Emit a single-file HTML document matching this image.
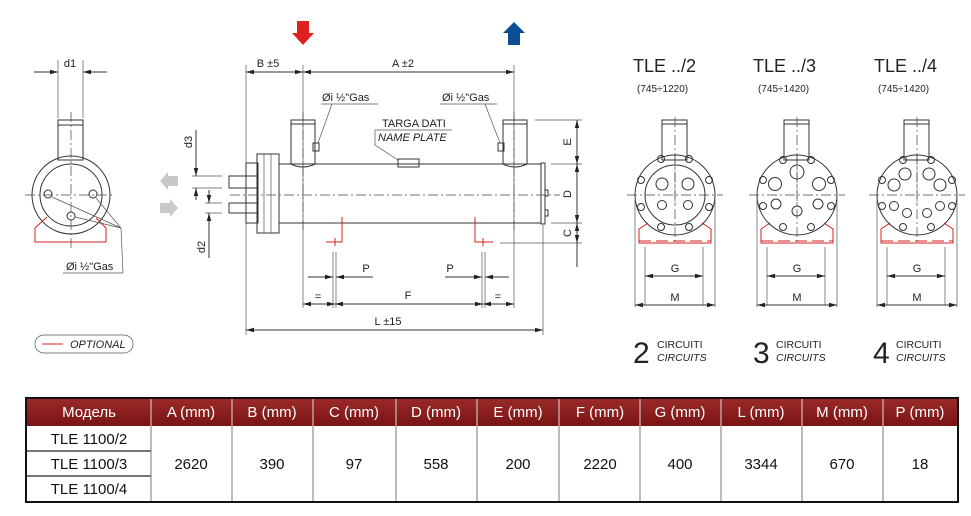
<!DOCTYPE html>
<html><head><meta charset="utf-8"><style>
html,body{margin:0;padding:0;background:#fff;}
svg{display:block;font-family:"Liberation Sans Narrow","Liberation Sans",sans-serif;}
.l{stroke:#333;stroke-width:1;fill:none}
.t{stroke:#555;stroke-width:0.7;fill:none}
.c{stroke:#444;stroke-width:0.7;fill:none;stroke-dasharray:10 3 2 3}
.r{stroke:#d42020;stroke-width:1;fill:none}
.tx{font-size:11px;fill:#222}
</style></head><body>
<svg width="971" height="516" viewBox="0 0 971 516">
<defs>
<marker id="a" markerWidth="8" markerHeight="6" refX="8" refY="3" orient="auto-start-reverse" markerUnits="userSpaceOnUse"><path d="M0,0.8 L8,3 L0,5.2z" fill="#222"/></marker>
<g id="ev">
  <line class="c" x1="0" y1="-78" x2="0" y2="10"/>
  <rect class="l" x="-13" y="-75" width="25" height="40" fill="#fff"/>
  <rect class="l" x="-13" y="-75" width="25" height="4"/>
  <circle class="l" cx="0" cy="0" r="40" fill="#fff"/>
  <line class="c" x1="-48" y1="0" x2="48" y2="0"/>
  <line class="c" x1="0" y1="-40" x2="0" y2="48"/>
  <path class="r" d="M-27,28 L-36,34 L-36,48 L36,48 L36,34 L27,28"/>
  <line class="r" x1="-36" y1="46" x2="36" y2="46" stroke-dasharray="12 5"/>
  <line class="t" x1="-30" y1="52" x2="-30" y2="110"/><line class="t" x1="28" y1="52" x2="28" y2="110"/>
  <line class="t" x1="-40" y1="5" x2="-40" y2="112"/><line class="t" x1="40" y1="5" x2="40" y2="112"/>
  <line class="l" x1="-30" y1="81" x2="28" y2="81" marker-start="url(#a)" marker-end="url(#a)"/>
  <line class="l" x1="-40" y1="110" x2="40" y2="110" marker-start="url(#a)" marker-end="url(#a)"/>
  <text x="0" y="77" class="tx" font-size="13" text-anchor="middle">G</text>
  <text x="0" y="106" class="tx" font-size="13" text-anchor="middle">M</text>
</g>
</defs>

<!-- LEFT END VIEW -->
<line class="t" x1="58" y1="60" x2="58" y2="118"/><line class="t" x1="83" y1="60" x2="83" y2="118"/>
<line class="l" x1="34" y1="72" x2="58" y2="72" marker-end="url(#a)"/><line class="l" x1="107" y1="72" x2="83" y2="72" marker-end="url(#a)"/>
<text x="70" y="67" class="tx" font-size="13" text-anchor="middle">d1</text>
<rect class="l" x="58" y="120" width="25" height="40"/>
<rect class="l" x="58" y="120" width="25" height="5"/>
<circle class="l" cx="71" cy="195" r="39" fill="#fff"/>
<circle class="l" cx="71" cy="195" r="31"/>
<line class="c" x1="25" y1="195" x2="115" y2="195"/>
<line class="c" x1="71" y1="112" x2="71" y2="248"/>
<circle class="l" cx="48" cy="194" r="4" fill="#fff"/><circle class="l" cx="93" cy="194" r="4" fill="#fff"/><circle class="l" cx="71" cy="216" r="4" fill="#fff"/>
<path class="r" d="M47,217 L35,228 L35,242 L106,242 L106,228 L96,218"/>
<line class="r" x1="35" y1="242" x2="106" y2="242" stroke-dasharray="12 6"/>
<line class="t" x1="52" y1="197" x2="121" y2="228"/><line class="t" x1="96" y1="198" x2="121" y2="228"/><line class="t" x1="75" y1="217" x2="121" y2="228"/>
<line class="t" x1="121" y1="228" x2="123" y2="273"/><line class="t" x1="63" y1="273" x2="123" y2="273"/>
<text x="66" y="270" class="tx" font-size="11">Øi ½"Gas</text>
<rect x="35" y="335" width="98" height="18" rx="9" class="t" stroke="#444"/>
<line class="r" x1="42" y1="344" x2="63" y2="344"/>
<text x="70" y="348" class="tx" font-size="10" font-style="italic">OPTIONAL</text>

<!-- gray arrows -->
<path d="M178,176 L168,176 L168,172 L160,181 L168,190 L168,186 L178,186z" fill="#c8c8c8"/>
<path d="M160,203 L170,203 L170,199 L178,208 L170,217 L170,213 L160,213z" fill="#c8c8c8"/>

<!-- d3 d2 -->
<line class="t" x1="192" y1="176" x2="222" y2="176"/><line class="t" x1="192" y1="188" x2="222" y2="188"/>
<line class="t" x1="205" y1="203" x2="222" y2="203"/><line class="t" x1="205" y1="213" x2="222" y2="213"/>
<line class="l" x1="196" y1="130" x2="196" y2="176" marker-end="url(#a)"/><line class="l" x1="196" y1="200" x2="196" y2="188" marker-end="url(#a)"/>
<line class="l" x1="209" y1="190" x2="209" y2="203" marker-end="url(#a)"/><line class="l" x1="209" y1="258" x2="209" y2="213" marker-end="url(#a)"/>
<text transform="translate(192,142) rotate(-90)" class="tx" font-size="13" text-anchor="middle">d3</text>
<text transform="translate(205,247) rotate(-90)" class="tx" font-size="13" text-anchor="middle">d2</text>

<!-- arrows in/out -->
<path d="M297,21 L309,21 L309,33 L314,33 L303,45 L292,33 L297,33z" fill="#e02020"/>
<path d="M508,45 L520,45 L520,33 L525,33 L514,22 L503,33 L508,33z" fill="#0a4f94"/>

<!-- SIDE VIEW -->
<line class="t" x1="246" y1="65" x2="246" y2="335"/>
<line class="t" x1="303" y1="65" x2="303" y2="308"/>
<line class="t" x1="514" y1="65" x2="514" y2="308"/>
<line class="t" x1="543" y1="225" x2="543" y2="335"/>
<line class="l" x1="246" y1="72" x2="303" y2="72" marker-start="url(#a)" marker-end="url(#a)"/>
<line class="l" x1="303" y1="72" x2="514" y2="72" marker-start="url(#a)" marker-end="url(#a)"/>
<text x="268" y="67" class="tx" font-size="13" text-anchor="middle">B ±5</text>
<text x="403" y="67" class="tx" font-size="13" text-anchor="middle">A ±2</text>
<rect class="l" x="229" y="176" width="28" height="12"/>
<rect class="l" x="229" y="203" width="28" height="10"/>
<rect class="l" x="246" y="163" width="12" height="60" fill="#fff"/>
<rect class="l" x="257" y="154" width="22" height="79" fill="#fff"/>
<line class="t" x1="264" y1="154" x2="264" y2="233"/><line class="t" x1="271" y1="154" x2="271" y2="233"/>
<rect class="l" x="279" y="164" width="262" height="59" fill="#fff"/>
<rect class="l" x="541" y="163" width="4" height="61" fill="#fff"/>
<rect class="l" x="545" y="190" width="3" height="6"/><rect class="l" x="545" y="210" width="3" height="6"/>
<path class="l" d="M291,164 L291,120 L315,120 L315,164 Q303,170 291,164z" fill="#fff"/>
<rect class="l" x="291" y="120" width="24" height="4"/>
<path class="l" d="M503,164 L503,120 L527,120 L527,164 Q515,170 503,164z" fill="#fff"/>
<rect class="l" x="503" y="120" width="24" height="4"/>
<line class="c" x1="230" y1="195" x2="560" y2="195"/>
<line class="c" x1="303" y1="112" x2="303" y2="230"/><line class="c" x1="514" y1="112" x2="514" y2="230"/>
<rect class="l" x="313" y="143" width="6" height="8" fill="#fff"/>
<rect class="l" x="498" y="143" width="6" height="8" fill="#fff"/>
<line class="t" x1="321" y1="104" x2="378" y2="104"/><line class="t" x1="332" y1="104" x2="318" y2="143"/>
<line class="t" x1="440" y1="104" x2="497" y2="104"/><line class="t" x1="485" y1="104" x2="500" y2="143"/>
<text x="322" y="101" class="tx" font-size="10">Øi ½"Gas</text>
<text x="442" y="101" class="tx" font-size="10">Øi ½"Gas</text>
<text x="382" y="127" class="tx" font-size="10">TARGA DATI</text>
<text x="378" y="141" class="tx" font-size="10" font-style="italic">NAME PLATE</text>
<line class="t" x1="375" y1="130" x2="452" y2="130"/>
<path class="t" d="M375,130 L375,145 L398,160"/>
<rect class="l" x="398" y="159" width="21" height="8" fill="#fff"/>
<!-- red feet -->
<path class="r" d="M342,217 L342,242 L326,242"/><line class="r" x1="335" y1="238" x2="335" y2="246"/>
<path class="r" d="M475,217 L475,242 L493,242"/><line class="r" x1="483" y1="238" x2="483" y2="246"/>
<!-- P / F / L dims -->
<line class="t" x1="333" y1="252" x2="333" y2="308"/><line class="t" x1="336" y1="252" x2="336" y2="308"/>
<line class="t" x1="482" y1="252" x2="482" y2="308"/><line class="t" x1="485" y1="252" x2="485" y2="308"/>
<line class="l" x1="308" y1="277" x2="333" y2="277" marker-end="url(#a)"/><line class="l" x1="373" y1="277" x2="336" y2="277" marker-end="url(#a)"/>
<line class="l" x1="445" y1="277" x2="482" y2="277" marker-end="url(#a)"/><line class="l" x1="509" y1="277" x2="485" y2="277" marker-end="url(#a)"/>
<text x="366" y="272" class="tx" font-size="13" text-anchor="middle">P</text>
<text x="450" y="272" class="tx" font-size="13" text-anchor="middle">P</text>
<line class="l" x1="303" y1="304" x2="335" y2="304" marker-start="url(#a)" marker-end="url(#a)"/>
<line class="l" x1="335" y1="304" x2="483" y2="304" marker-start="url(#a)" marker-end="url(#a)"/>
<line class="l" x1="483" y1="304" x2="514" y2="304" marker-start="url(#a)" marker-end="url(#a)"/>
<text x="318" y="300" class="tx" font-size="12" text-anchor="middle">=</text>
<text x="408" y="299" class="tx" font-size="13" text-anchor="middle">F</text>
<text x="498" y="300" class="tx" font-size="12" text-anchor="middle">=</text>
<line class="l" x1="246" y1="330" x2="543" y2="330" marker-start="url(#a)" marker-end="url(#a)"/>
<text x="388" y="325" class="tx" font-size="13" text-anchor="middle">L ±15</text>
<!-- E D C -->
<line class="t" x1="535" y1="120" x2="582" y2="120"/>
<line class="t" x1="551" y1="164" x2="582" y2="164"/>
<line class="t" x1="551" y1="223" x2="582" y2="223"/>
<line class="t" x1="500" y1="243" x2="582" y2="243"/>
<line class="l" x1="577" y1="120" x2="577" y2="164" marker-start="url(#a)" marker-end="url(#a)"/>
<line class="l" x1="577" y1="164" x2="577" y2="223" marker-start="url(#a)" marker-end="url(#a)"/>
<line class="l" x1="577" y1="223" x2="577" y2="243" marker-start="url(#a)" marker-end="url(#a)"/>
<line class="l" x1="577" y1="243" x2="577" y2="267"/>
<text transform="translate(571,142) rotate(-90)" class="tx" font-size="13" text-anchor="middle">E</text>
<text transform="translate(571,194) rotate(-90)" class="tx" font-size="13" text-anchor="middle">D</text>
<text transform="translate(571,233) rotate(-90)" class="tx" font-size="13" text-anchor="middle">C</text>

<!-- END VIEWS -->
<g transform="translate(675,195)"><use href="#ev"/>
 <circle class="l" r="30"/>
 <g class="l" fill="#fff"><circle cx="-14" cy="-36" r="3.5"/><circle cx="14" cy="-36" r="3.5"/><circle cx="-34" cy="-15" r="3.5"/><circle cx="34" cy="-15" r="3.5"/><circle cx="-34" cy="12" r="3.5"/><circle cx="34" cy="12" r="3.5"/><circle cx="-14" cy="32" r="3.5"/><circle cx="14" cy="32" r="3.5"/>
 <circle cx="-13" cy="-11" r="6"/><circle cx="13" cy="-11" r="6"/><circle cx="-13" cy="10" r="4.5"/><circle cx="13" cy="10" r="4.5"/></g>
</g>
<g transform="translate(797,195)"><use href="#ev"/>
 <g class="l" fill="#fff"><circle cx="-14" cy="-35" r="3.5"/><circle cx="14" cy="-35" r="3.5"/><circle cx="-34" cy="-15" r="3.5"/><circle cx="34" cy="-15" r="3.5"/><circle cx="-34" cy="11" r="3.5"/><circle cx="34" cy="11" r="3.5"/><circle cx="-14" cy="32" r="3.5"/><circle cx="14" cy="32" r="3.5"/>
 <circle cx="0" cy="-23" r="7"/><circle cx="-22" cy="-11" r="6.5"/><circle cx="22" cy="-11" r="6.5"/><circle cx="-21" cy="9" r="5"/><circle cx="21" cy="9" r="5"/><circle cx="0" cy="16" r="5"/></g>
</g>
<g transform="translate(917,195)"><use href="#ev"/>
 <g class="l" fill="#fff"><circle cx="-14" cy="-35" r="3.5"/><circle cx="14" cy="-35" r="3.5"/><circle cx="-35" cy="-15" r="3.5"/><circle cx="35" cy="-15" r="3.5"/><circle cx="-35" cy="11" r="3.5"/><circle cx="35" cy="11" r="3.5"/><circle cx="-14" cy="32" r="3.5"/><circle cx="14" cy="32" r="3.5"/>
 <circle cx="-12" cy="-21" r="6"/><circle cx="12" cy="-21" r="6"/><circle cx="-23" cy="-10" r="6"/><circle cx="23" cy="-10" r="6"/><circle cx="-23" cy="11" r="4.5"/><circle cx="23" cy="11" r="4.5"/><circle cx="-10" cy="18" r="4.5"/><circle cx="10" cy="18" r="4.5"/></g>
</g>
<g class="tx">
<text x="633" y="72" font-size="18">TLE ../2</text><text x="637" y="92" font-size="10">(745÷1220)</text>
<text x="753" y="72" font-size="18">TLE ../3</text><text x="758" y="92" font-size="10">(745÷1420)</text>
<text x="874" y="72" font-size="18">TLE ../4</text><text x="878" y="92" font-size="10">(745÷1420)</text>
<text x="633" y="363" font-size="30">2</text><text x="657" y="348" font-size="10.5">CIRCUITI</text><text x="657" y="361" font-size="10.5" font-style="italic">CIRCUITS</text>
<text x="753" y="363" font-size="30">3</text><text x="776" y="348" font-size="10.5">CIRCUITI</text><text x="776" y="361" font-size="10.5" font-style="italic">CIRCUITS</text>
<text x="873" y="363" font-size="30">4</text><text x="896" y="348" font-size="10.5">CIRCUITI</text><text x="896" y="361" font-size="10.5" font-style="italic">CIRCUITS</text>
</g>

<!-- TABLE -->
<defs><linearGradient id="hg" x1="0" y1="0" x2="0" y2="1"><stop offset="0" stop-color="#9c2a2a"/><stop offset="1" stop-color="#7a1414"/></linearGradient></defs>
<rect x="26" y="398" width="932" height="28" fill="url(#hg)"/>
<g stroke="#ddd" stroke-width="1">
<line x1="151" y1="398" x2="151" y2="426"/><line x1="232" y1="398" x2="232" y2="426"/><line x1="313" y1="398" x2="313" y2="426"/><line x1="396" y1="398" x2="396" y2="426"/><line x1="477" y1="398" x2="477" y2="426"/><line x1="559" y1="398" x2="559" y2="426"/><line x1="640" y1="398" x2="640" y2="426"/><line x1="721" y1="398" x2="721" y2="426"/><line x1="802" y1="398" x2="802" y2="426"/><line x1="883" y1="398" x2="883" y2="426"/>
</g>
<g stroke="#777" stroke-width="1">
<line x1="151" y1="426" x2="151" y2="502"/><line x1="232" y1="426" x2="232" y2="502"/><line x1="313" y1="426" x2="313" y2="502"/><line x1="396" y1="426" x2="396" y2="502"/><line x1="477" y1="426" x2="477" y2="502"/><line x1="559" y1="426" x2="559" y2="502"/><line x1="640" y1="426" x2="640" y2="502"/><line x1="721" y1="426" x2="721" y2="502"/><line x1="802" y1="426" x2="802" y2="502"/><line x1="883" y1="426" x2="883" y2="502"/>
<line x1="26" y1="451" x2="151" y2="451" stroke-width="2"/><line x1="26" y1="476" x2="151" y2="476" stroke-width="2"/>
</g>
<rect x="26" y="398" width="932" height="104" fill="none" stroke="#111" stroke-width="2"/>
<g font-size="15" fill="#fff" text-anchor="middle">
<text x="89" y="417">Модель</text><text x="191" y="417">A (mm)</text><text x="272" y="417">B (mm)</text><text x="354" y="417">C (mm)</text><text x="436" y="417">D (mm)</text><text x="518" y="417">E (mm)</text><text x="600" y="417">F (mm)</text><text x="680" y="417">G (mm)</text><text x="761" y="417">L (mm)</text><text x="842" y="417">M (mm)</text><text x="920" y="417">P (mm)</text>
</g>
<g font-size="15" fill="#111" text-anchor="middle">
<text x="89" y="444">TLE 1100/2</text><text x="89" y="469">TLE 1100/3</text><text x="89" y="494">TLE 1100/4</text>
<text x="191" y="469">2620</text><text x="272" y="469">390</text><text x="354" y="469">97</text><text x="436" y="469">558</text><text x="518" y="469">200</text><text x="600" y="469">2220</text><text x="680" y="469">400</text><text x="761" y="469">3344</text><text x="842" y="469">670</text><text x="920" y="469">18</text>
</g>
</svg>
</body></html>
